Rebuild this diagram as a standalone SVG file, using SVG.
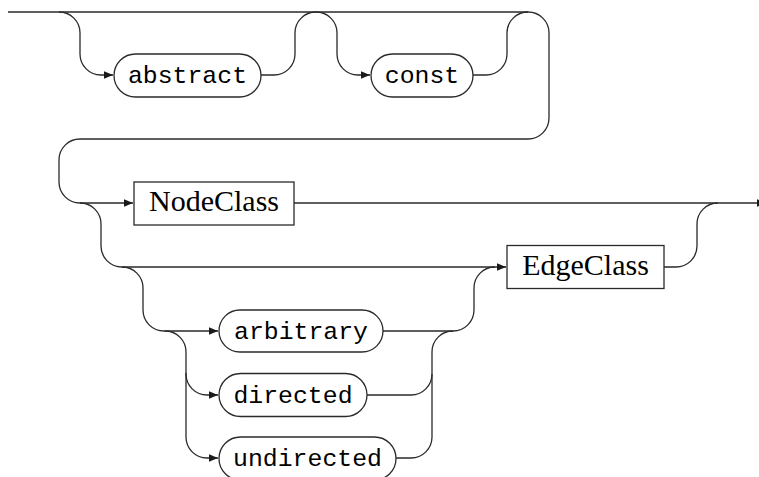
<svg xmlns="http://www.w3.org/2000/svg" width="759" height="477" viewBox="0 0 759 477">
  <style>
    .wire { fill: none; stroke: #2a2a2a; stroke-width: 1.3; }
    .term { fill: #ffffff; stroke: #2a2a2a; stroke-width: 1.3; }
    .nonterm { fill: #ffffff; stroke: #2a2a2a; stroke-width: 1.3; }
    .kw { font-family: "Liberation Mono", "DejaVu Sans Mono", monospace; font-size: 24.8px; fill: #000; text-anchor: middle; }
    .nt { font-family: "Liberation Serif", "DejaVu Serif", serif; font-size: 30px; fill: #000; text-anchor: middle; }
  </style>
  <defs>
    <marker id="arrow" markerUnits="userSpaceOnUse" markerWidth="10" markerHeight="9" refX="9" refY="4.5" orient="auto">
      <path d="M0,0.8 L9,4.5 L0,8.2 z" fill="#1a1a1a"/>
    </marker>
  </defs>

  <!-- connectors -->
  <g id="connectors" class="wire">
    <!-- top rail and return loop to the second row -->
    <path d="M8,12 H528 A21,21 0 0 1 549,33 V118 A21,21 0 0 1 528,139 H80 A21,21 0 0 0 59,160 V182 A21,21 0 0 0 80,203 H133" marker-end="url(#arrow)"/>
    <!-- optional abstract -->
    <path d="M59,12 A21,21 0 0 1 80,33 V54 A21,21 0 0 0 101,75 H113" marker-end="url(#arrow)"/>
    <path d="M261,75 H274 A21,21 0 0 0 295,54 V33 A21,21 0 0 1 316,12"/>
    <!-- optional const -->
    <path d="M316,12 A21,21 0 0 1 337,33 V54 A21,21 0 0 0 358,75 H370" marker-end="url(#arrow)"/>
    <path d="M473,75 H486 A21,21 0 0 0 507,54 V33 A21,21 0 0 1 528,12"/>
    <!-- main exit -->
    <path d="M294,203 H766" marker-end="url(#arrow)"/>
    <!-- edge class branch -->
    <path d="M80,203 A21,21 0 0 1 101,224 V246 A21,21 0 0 0 122,267 H506" marker-end="url(#arrow)"/>
    <path d="M664,267 H676 A21,21 0 0 0 697,246 V224 A21,21 0 0 1 718,203"/>
    <!-- edge kind choice -->
    <path d="M122,267 A21,21 0 0 1 143,288 V310 A21,21 0 0 0 164,331 H218" marker-end="url(#arrow)"/>
    <path d="M165,331 A21,21 0 0 1 186,352 V374 A21,21 0 0 0 207,395 H218" marker-end="url(#arrow)"/>
    <path d="M186,373 V437 A21,21 0 0 0 207,458 H218" marker-end="url(#arrow)"/>
    <path d="M383,331 H453 A21,21 0 0 0 474,310 V288 A21,21 0 0 1 495,267"/>
    <path d="M367,395 H411 A21,21 0 0 0 432,374 V352 A21,21 0 0 1 453,331"/>
    <path d="M396,458 H411 A21,21 0 0 0 432,437 V374"/>
  </g>

  <!-- nodes -->
  <g id="abstract">
    <rect class="term" x="114" y="54" width="147" height="43" rx="21.5"/>
    <text class="kw" x="187.5" y="83">abstract</text>
  </g>
  <g id="const">
    <rect class="term" x="371" y="54" width="102" height="43" rx="21.5"/>
    <text class="kw" x="422" y="83">const</text>
  </g>
  <g id="NodeClass">
    <rect class="nonterm" x="134" y="182" width="160" height="43"/>
    <text class="nt" x="214" y="211">NodeClass</text>
  </g>
  <g id="EdgeClass">
    <rect class="nonterm" x="507" y="245.5" width="157" height="43"/>
    <text class="nt" x="585.5" y="274.5">EdgeClass</text>
  </g>
  <g id="arbitrary">
    <rect class="term" x="219" y="310" width="164" height="42" rx="21"/>
    <text class="kw" x="301" y="338.5">arbitrary</text>
  </g>
  <g id="directed">
    <rect class="term" x="219" y="373.5" width="148" height="43" rx="21.5"/>
    <text class="kw" x="293" y="402.5">directed</text>
  </g>
  <g id="undirected">
    <rect class="term" x="219" y="437" width="177" height="43" rx="21.5"/>
    <text class="kw" x="307.5" y="466">undirected</text>
  </g>
</svg>
